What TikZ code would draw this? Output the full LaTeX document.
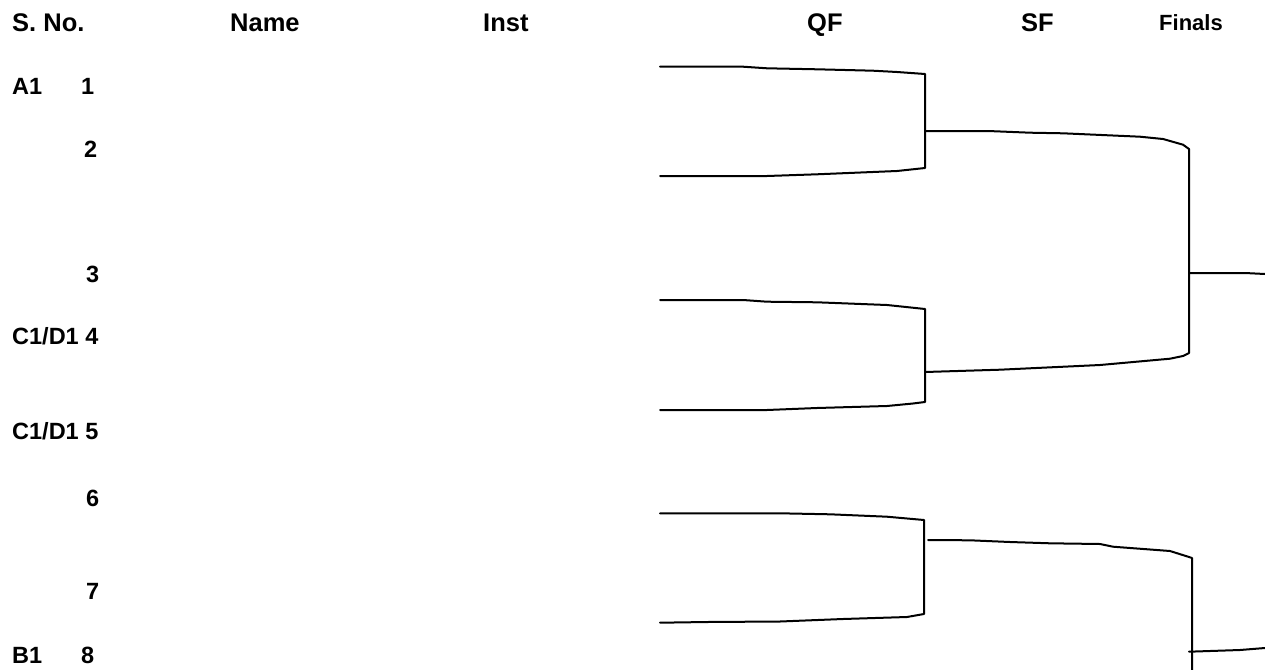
\documentclass[tikz,border=0pt]{standalone}
\usepackage{fontspec}
\setmainfont{Liberation Sans}
\begin{document}
\begin{tikzpicture}[x=1pt,y=-1pt,
  hdr/.style={font=\fontsize{25.5}{30}\selectfont\bfseries, inner sep=0pt, anchor=base west},
  hdrsmall/.style={font=\fontsize{22}{26}\selectfont\bfseries, inner sep=0pt, anchor=base west},
  lbl/.style={font=\fontsize{23.5}{28}\selectfont\bfseries, inner sep=0pt, anchor=base west},
  wire/.style={line width=2pt, line join=round, line cap=round, black}]
\useasboundingbox (0,0) rectangle (1265,669);
% headers
\node[hdr] (hsno) at (12,32) {S. No.};
\node[hdr] (hname) at (230,32) {Name};
\node[hdr] (hinst) at (483,32) {Inst};
\node[hdr] (hqf) at (807,32) {QF};
\node[hdr] (hsf) at (1021,32) {SF};
\node[hdrsmall] (hfin) at (1159,31) {Finals};
% row labels
\node[lbl] (gA) at (12,94) {A1};
\node[lbl] (r1) at (81,94) {1};
\node[lbl] (r2) at (84,157) {2};
\node[lbl] (r3) at (86,282) {3};
\node[lbl] (r4) at (12,344) {C1/D1 4};
\node[lbl] (r5) at (12,439) {C1/D1 5};
\node[lbl] (r6) at (86,506) {6};
\node[lbl] (r7) at (86,599) {7};
\node[lbl] (gB) at (12,663) {B1};
\node[lbl] (r8) at (81,663) {8};
% bracket coordinates
\coordinate (q1a) at (660,66.7);
\coordinate (q1b) at (660,176);
\coordinate (q1t) at (925,74);
\coordinate (q1u) at (925,168);
\coordinate (q1o) at (925,131);
\coordinate (q2a) at (660,300);
\coordinate (q2b) at (660,410);
\coordinate (q2t) at (925,309);
\coordinate (q2u) at (925,402);
\coordinate (q2o) at (925,372);
\coordinate (q3a) at (660,513.3);
\coordinate (q3b) at (660,622.7);
\coordinate (q3t) at (924,520);
\coordinate (q3u) at (924,614);
\coordinate (q3o) at (928,540);
\coordinate (s1t) at (1189,149);
\coordinate (s1u) at (1189,353);
\coordinate (s1o) at (1189,273);
\coordinate (f1) at (1265,274);
\coordinate (s2t) at (1192,558);
\coordinate (s2u) at (1192,672);
\coordinate (s2o) at (1189,651.7);
\coordinate (f2) at (1265,648);
% QF bracket 1
\draw[wire] (q1a) -- (743,66.7) -- (767,68.3) -- (817,69.3) -- (873,70.7) -- (897,72) -- (q1t)
  -- (q1u) -- (897,171) -- (817,174.3) -- (767,176) -- (q1b);
% QF bracket 2
\draw[wire] (q2a) -- (743,300) -- (767,301.7) -- (817,302.3) -- (887,305) -- (q2t)
  -- (q2u) -- (913,403.5) -- (887,406) -- (817,408) -- (767,410) -- (q2b);
% QF bracket 3
\draw[wire] (q3a) -- (780,513.3) -- (830,514.3) -- (887,516.7) -- (q3t)
  -- (q3u) -- (907,617) -- (843,619) -- (780,621.5) -- (707,622) -- (q3b);
% SF bracket 1
\draw[wire] (q1o) -- (988,131) -- (1030,132.7) -- (1063,133.3) -- (1140,136.7) -- (1163,139) -- (1183,144.7) -- (s1t)
  -- (s1u) -- (1183,356) -- (1170,358.7) -- (1100,365) -- (1000,369.7) -- (q2o);
\draw[wire] (s1o) -- (1245,273) -- (f1);
% SF bracket 2
\draw[wire] (q3o) -- (970,540.3) -- (1010,542) -- (1050,543.3) -- (1100,544) -- (1113,546.7) -- (1170,551) -- (1189,557) -- (s2t) -- (s2u);
\draw[wire] (s2o) -- (1240,650) -- (f2);
\end{tikzpicture}
\end{document}
